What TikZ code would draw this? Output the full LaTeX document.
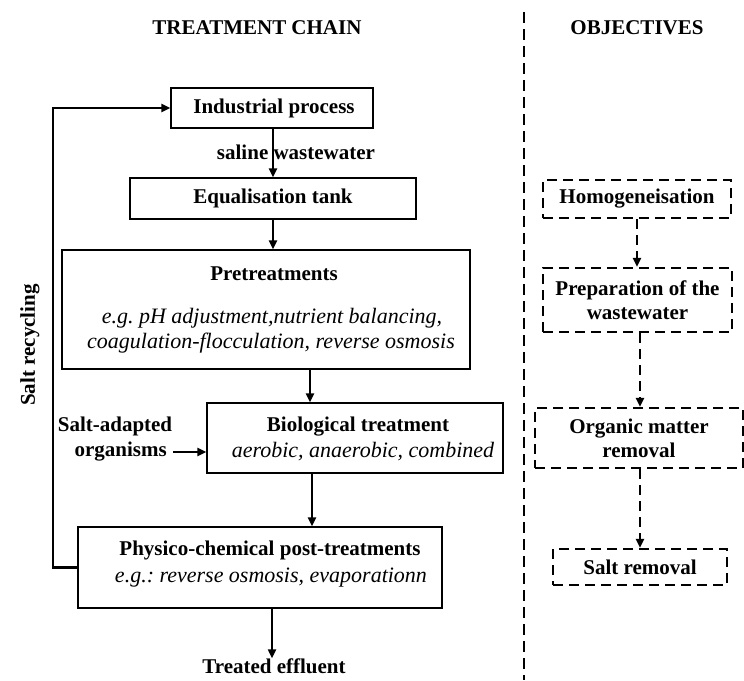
\documentclass[tikz,border=0pt]{standalone}
\usepackage{fontspec}
\setmainfont{Liberation Serif}
\usetikzlibrary{arrows.meta,calc}
\frenchspacing
\begin{document}
\begin{tikzpicture}[x=1pt,y=-1pt,
  lbl/.style={font=\fontsize{21}{24}\selectfont\bfseries, inner sep=0pt},
  itl/.style={font=\fontsize{22}{25}\selectfont\itshape, inner sep=0pt},
  sbox/.style={draw, line width=1.3pt, inner sep=0pt},
  dbox/.style={draw, line width=2.2pt, dash pattern=on 10pt off 6pt, inner sep=0pt},
  arr/.style={line width=2.2pt, -{Triangle[length=9pt,width=8pt]}},
  darr/.style={line width=2.2pt, dash pattern=on 10pt off 6pt, -{Triangle[length=9pt,width=8pt]}}
]
\useasboundingbox (0,0) rectangle (744,680);
% titles
\node[lbl] (t1) at (257,28) {TREATMENT CHAIN};
\node[lbl] (t2) at (637,28) {OBJECTIVES};
% divider
\coordinate (dtop) at (524,12);
\coordinate (dbot) at (524,680);
\draw[line width=2.2pt, dash pattern=on 11pt off 6pt] (dtop) -- (dbot);
% chain boxes
\node[sbox, minimum width=202pt, minimum height=40pt] (ind) at (272,108) {};
\node[lbl] (indt) at (274,108) {Industrial process};
\node[sbox, minimum width=286pt, minimum height=41pt] (eq) at (273,198.5) {};
\node[lbl] (eqt) at (eq.center) {Equalisation tank};
\node[sbox, minimum width=408pt, minimum height=119pt] (pre) at (266,309.5) {};
\node[lbl] (pret) at (274,274) {Pretreatments};
\node[itl] (pre1) at (272,318) {e.g. pH adjustment,nutrient balancing,};
\node[itl] (pre2) at (271,343) {coagulation-flocculation, reverse osmosis};
\node[sbox, minimum width=296pt, minimum height=70pt] (bio) at (355,438) {};
\node[lbl] (biot) at (358,427) {Biological treatment};
\node[itl] (bio1) at (363,452) {aerobic, anaerobic, combined};
\node[sbox, minimum width=364pt, minimum height=81pt] (phy) at (260,567.5) {};
\node[lbl] (phyt) at (270,550) {Physico-chemical post-treatments};
\node[itl] (phy1) at (271,578) {e.g.: reverse osmosis, evaporationn};
% other labels
\node[lbl] (saline) at (296,152) {saline wastewater};
\node[lbl] (sa1) at (115,426) {Salt-adapted};
\node[lbl, anchor=east] (sa2) at (167,452) {organisms};
\node[lbl] (treated) at (274,666) {Treated effluent};
\node[lbl, rotate=90] (salt) at (30,345) {Salt recycling};
% chain arrows
\draw[arr] (ind.south -| 273,0) -- (eq.north -| 273,0);
\draw[arr] (eq.south -| 273,0) -- (pre.north -| 273,0);
\draw[arr] (pre.south -| 310,0) -- (bio.north -| 310,0);
\draw[arr] (bio.south -| 312,0) -- (phy.north -| 312,0);
\draw[arr] (phy.south -| 272,0) -- (treated.north -| 272,0);
\draw[arr] (sa2.east) ++(6,0) coordinate (saend) -- (bio.west |- saend);
\draw[arr] (phy.west) -- (53,567.5) -- (53,108) -- (ind.west);
% objective boxes
\node[dbox, minimum width=188pt, minimum height=38pt] (hom) at (637,199) {};
\node[lbl] (homt) at (hom.center) {Homogeneisation};
\node[dbox, minimum width=189pt, minimum height=64pt] (prep) at (637.5,300) {};
\node[lbl, align=center] (prept) at (prep.center) {Preparation of the\\wastewater};
\node[dbox, minimum width=208pt, minimum height=60pt] (org) at (639,438) {};
\node[lbl, align=center] (orgt) at (org.center) {Organic matter\\removal};
\node[dbox, minimum width=174pt, minimum height=36pt] (srem) at (640,567) {};
\node[lbl] (sremt) at (srem.center) {Salt removal};
% objective arrows
\draw[darr] (hom.south -| 637,0) -- (prep.north -| 637,0);
\draw[darr] (prep.south -| 640,0) -- (org.north -| 640,0);
\draw[darr] (org.south -| 640,0) -- (srem.north -| 640,0);
\end{tikzpicture}
\end{document}
